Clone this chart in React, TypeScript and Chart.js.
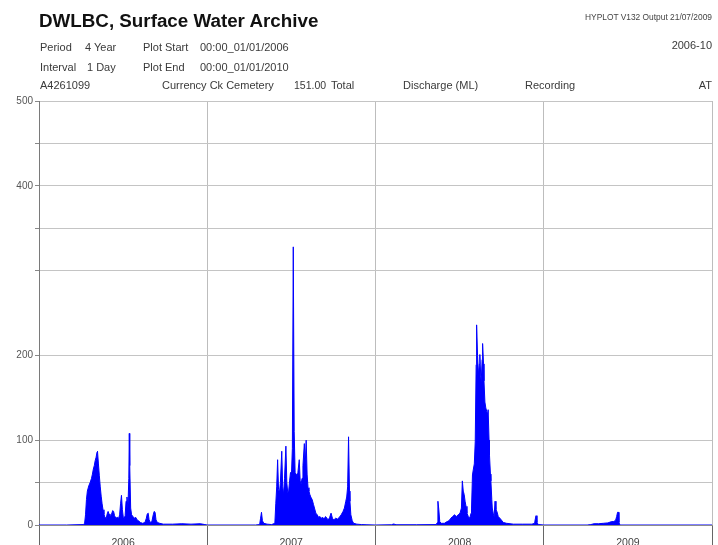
import React, { useEffect, useRef } from "react";
import { Chart, registerables } from "chart.js";

Chart.register(...registerables);

// Calendar layout of the 4-year period (day offsets from 01/01/2006)
const yearLabels = ["2006", "2007", "2008", "2009"];
const yearStartDays = [0, 365, 730, 1096, 1461];

// Vertical axis: grid levels and the levels that carry a label
const yGridLevels = [0, 50, 100, 200, 300, 350, 400, 450, 500];
const yTickLabels = [0, 100, 200, 400, 500];

// Daily discharge (ML) — day offset and value pairs, one pair of arrays per year
const days2006 = [0, 60, 96, 99, 101, 103, 105, 108, 111, 114, 116, 118, 120, 122, 124, 126, 127, 129, 131, 133, 135, 137, 139, 141, 143, 146, 148, 150, 152, 154, 157, 160, 162, 164, 167, 170, 173, 175, 177, 179, 181, 183, 185, 187, 189, 191, 193, 195, 196, 197, 199, 201, 204, 207, 210, 213, 216, 220, 225, 230, 233, 235, 237, 239, 242, 245, 248, 250, 252, 254, 257, 262, 270, 290, 310, 330, 350, 360];
const flow2006 = [0, 0, 0.5, 2, 12, 30, 40, 46, 50, 55, 60, 66, 70, 76, 80, 86, 87, 72, 58, 45, 34, 25, 18, 13, 9, 8, 13, 16, 13, 9, 12, 17, 16, 11, 8, 9, 8, 12, 25, 35, 18, 9, 8, 11, 28, 33, 20, 55, 108, 70, 20, 12, 10, 8, 9, 6, 5, 3, 2, 3, 8, 13, 14, 6, 3, 4, 12, 16, 15, 6, 3, 2, 1, 1, 1.5, 1, 1.5, 0.5];

const days2007 = [365, 470, 479, 481, 483, 485, 488, 495, 505, 512, 514, 516, 518, 520, 522, 524, 527, 529, 531, 533, 536, 538, 540, 542, 544, 546, 548, 550, 552, 554, 556, 558, 560, 562, 565, 567, 569, 571, 573, 576, 578, 580, 582, 584, 586, 588, 590, 593, 596, 598, 601, 604, 607, 610, 613, 616, 619, 622, 625, 628, 631, 634, 637, 640, 644, 648, 652, 656, 660, 663, 666, 668, 670, 672, 674, 675, 677, 680, 683, 690, 700, 710];
const flow2007 = [0, 0, 0.5, 8, 15, 5, 2, 1, 0.5, 2, 25, 45, 77, 42, 38, 50, 87, 45, 36, 55, 93, 50, 38, 40, 52, 62, 58, 90, 328, 110, 62, 60, 56, 62, 77, 52, 48, 55, 70, 96, 72, 100, 60, 44, 40, 36, 33, 30, 24, 20, 14, 12, 9, 10, 8, 9, 7, 10, 8, 6, 9, 14, 8, 6, 8, 7, 9, 12, 16, 20, 28, 33, 45, 104, 40, 28, 12, 5, 2, 1, 0.5, 0.3];

const days2008 = [730, 765, 770, 775, 820, 862, 865, 866, 868, 870, 873, 880, 886, 890, 894, 898, 902, 906, 910, 914, 917, 919, 921, 923, 925, 927, 929, 932, 935, 938, 939, 941, 943, 945, 947, 949, 950, 952, 954, 956, 957, 959, 960, 962, 963, 965, 966, 968, 970, 972, 974, 975, 977, 978, 980, 981, 983, 984, 986, 988, 990, 992, 994, 997, 1002, 1008, 1015, 1030, 1050, 1070, 1076, 1077, 1079, 1081, 1084];
const flow2008 = [0, 0.3, 1.2, 0.3, 0.3, 0.5, 3, 28, 18, 4, 2, 2, 4, 5, 8, 10, 12, 10, 12, 14, 20, 52, 40, 36, 28, 22, 14, 10, 8, 14, 20, 59, 66, 72, 98, 189, 236, 200, 177, 190, 201, 175, 169, 195, 214, 190, 170, 145, 138, 134, 130, 136, 100, 82, 60, 52, 30, 20, 14, 10, 28, 18, 16, 10, 7, 3, 2, 1, 1, 1, 2, 6, 11, 3, 0.5];

const days2009 = [1096, 1190, 1198, 1205, 1215, 1225, 1235, 1243, 1248, 1252, 1254, 1256, 1258, 1259, 1261, 1461];
const flow2009 = [0, 0, 0.5, 1.5, 1.5, 2, 2.5, 4, 4, 6, 10, 15, 15, 3, 0, 0];

const FONT = '"Liberation Sans", Arial, sans-serif';

const yearMidDays = yearLabels.map((_, i) => (yearStartDays[i] + yearStartDays[i + 1]) / 2);

function buildSeries() {
  const dayLists = [days2006, days2007, days2008, days2009];
  const flowLists = [flow2006, flow2007, flow2008, flow2009];
  const pts: { x: number; y: number }[] = [];
  dayLists.forEach((days, k) => {
    days.forEach((d, i) => pts.push({ x: d, y: flowLists[k][i] }));
  });
  return pts;
}

type TextItem = {
  text: string;
  x?: number;
  right?: number;
  baseline: number;
  size: number;
  bold?: boolean;
  color?: string;
};

const headerItems: TextItem[] = [
  { text: "DWLBC, Surface Water Archive", x: 39, baseline: 28, size: 18.8, bold: true, color: "#111" },
  { text: "HYPLOT V132 Output 21/07/2009", right: 6, baseline: 20, size: 8.4, color: "#444" },
  { text: "Period", x: 40, baseline: 51.7, size: 11 },
  { text: "4 Year", x: 85, baseline: 51.7, size: 11 },
  { text: "Plot Start", x: 143, baseline: 51.7, size: 11 },
  { text: "00:00_01/01/2006", x: 200, baseline: 51.7, size: 11 },
  { text: "2006-10", right: 6, baseline: 49, size: 11 },
  { text: "Interval", x: 40, baseline: 71.7, size: 11 },
  { text: "1 Day", x: 87, baseline: 71.7, size: 11 },
  { text: "Plot End", x: 143, baseline: 71.7, size: 11 },
  { text: "00:00_01/01/2010", x: 200, baseline: 71.7, size: 11 },
  { text: "A4261099", x: 40, baseline: 89.3, size: 11 },
  { text: "Currency Ck Cemetery", x: 162, baseline: 89.3, size: 11 },
  { text: "151.00", x: 294, baseline: 89.3, size: 10.5 },
  { text: "Total", x: 331, baseline: 89.3, size: 11 },
  { text: "Discharge (ML)", x: 403, baseline: 89.3, size: 11 },
  { text: "Recording", x: 525, baseline: 89.3, size: 11 },
  { text: "AT", right: 6, baseline: 89.3, size: 11 },
];

export default function App() {
  const canvasRef = useRef<HTMLCanvasElement | null>(null);

  useEffect(() => {
    const canvas = canvasRef.current;
    if (!canvas) return;
    const isBoundary = (v: number) => yearStartDays.includes(v);

    const chart = new Chart(canvas, {
      type: "line",
      data: {
        datasets: [
          {
            data: buildSeries(),
            borderColor: "#0000ff",
            backgroundColor: "#0000ff",
            borderWidth: 1,
            pointRadius: 0,
            fill: "origin",
            tension: 0,
          },
        ],
      },
      options: {
        animation: false,
        responsive: false,
        maintainAspectRatio: false,
        layout: { padding: { left: 0, top: 101, right: 6, bottom: 0 } },
        plugins: {
          legend: { display: false },
          tooltip: { enabled: false },
          title: { display: false },
        },
        scales: {
          x: {
            type: "linear",
            min: 0,
            max: 1461,
            afterBuildTicks: (scale: any) => {
              const vals = [...yearStartDays, ...yearMidDays].sort((a, b) => a - b);
              scale.ticks = vals.map((v) => ({ value: v }));
            },
            afterFit: (scale: any) => {
              scale.height = 20;
            },
            ticks: {
              autoSkip: false,
              maxRotation: 0,
              padding: -8,
              color: "#444",
              font: { family: FONT, size: 10.5 },
              callback: (value: any) => {
                const i = yearMidDays.indexOf(Number(value));
                return i >= 0 ? yearLabels[i] : "";
              },
            },
            grid: {
              color: (ctx: any) => (isBoundary(ctx.tick?.value) ? "#bdbdbd" : "rgba(0,0,0,0)"),
              tickColor: (ctx: any) => (isBoundary(ctx.tick?.value) ? "#666" : "rgba(0,0,0,0)"),
              tickLength: 20,
              lineWidth: 1,
            },
            border: { display: true, color: "#8c8c8c", width: 1 },
          },
          y: {
            min: 0,
            max: 500,
            afterBuildTicks: (scale: any) => {
              scale.ticks = yGridLevels.map((v) => ({ value: v }));
            },
            afterFit: (scale: any) => {
              scale.width = 39;
            },
            ticks: {
              autoSkip: false,
              padding: 2,
              color: "#555",
              font: { family: FONT, size: 10 },
              callback: (value: any) => (yTickLabels.includes(Number(value)) ? String(value) : ""),
            },
            grid: {
              color: "#c4c4c4",
              tickColor: "#888",
              tickLength: 4,
              lineWidth: 1,
            },
            border: { display: true, color: "#7a7a7a", width: 1 },
          },
        },
      },
    } as any);

    return () => chart.destroy();
  }, []);

  return (
    <div
      style={{
        position: "fixed",
        left: 0,
        top: 0,
        width: 718,
        height: 545,
        background: "#fff",
        overflow: "hidden",
      }}
    >
      <canvas
        ref={canvasRef}
        width={718}
        height={545}
        style={{ position: "absolute", left: 0, top: 0, width: 718, height: 545, display: "block" }}
      />
      {headerItems.map((t, i) => (
        <div
          key={i}
          style={{
            position: "absolute",
            top: t.baseline - 0.8465 * t.size,
            left: t.x,
            right: t.right,
            fontFamily: FONT,
            fontSize: t.size,
            lineHeight: 1,
            fontWeight: t.bold ? 700 : 400,
            color: t.color ?? "#3a3a3a",
            whiteSpace: "nowrap",
          }}
        >
          {t.text}
        </div>
      ))}
    </div>
  );
}
